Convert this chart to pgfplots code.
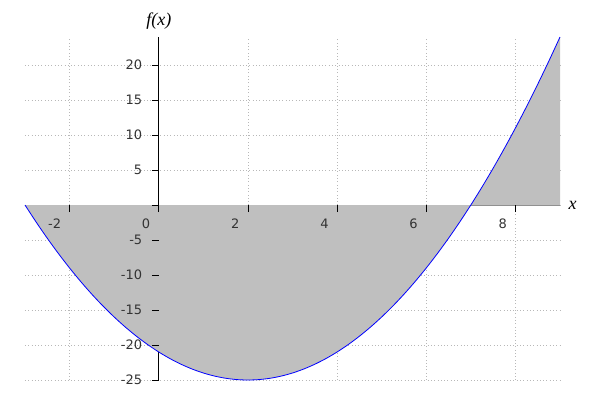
\documentclass[border=0pt]{standalone}
\usepackage{pgfplots}
\usepackage{pgfplotstable}
\pgfplotsset{compat=1.18}
\usepackage{fontspec}
\setmainfont{DejaVu Sans}
\newfontfamily\serifit{Liberation Serif}
\definecolor{fillgray}{HTML}{BFBFBF}
\definecolor{axgray}{HTML}{8A8A8A}
\definecolor{gridgray}{HTML}{B8B8B8}
\pgfplotsset{
 common/.style={
  at={(0,0)}, anchor=south west,
  scale only axis, width=535pt, height=343pt,
  xmin=-3, xmax=9, ymin=-25, ymax=24,
  xtick={-2,0,2,4,6,8},
  ytick={-25,-20,-15,-10,-5,0,5,10,15,20},
  hide obscured x ticks=false, hide obscured y ticks=false,
  clip=false,
 },
}
\pgfplotstableread{
x y
-3 0
-2.75 -2.4375
-2.5 -4.75
-2.25 -6.9375
-2 -9
-1.75 -10.9375
-1.5 -12.75
-1.25 -14.4375
-1 -16
-0.75 -17.4375
-0.5 -18.75
-0.25 -19.9375
0 -21
0.25 -21.9375
0.5 -22.75
0.75 -23.4375
1 -24
1.25 -24.4375
1.5 -24.75
1.75 -24.9375
2 -25
2.25 -24.9375
2.5 -24.75
2.75 -24.4375
3 -24
3.25 -23.4375
3.5 -22.75
3.75 -21.9375
4 -21
4.25 -19.9375
4.5 -18.75
4.75 -17.4375
5 -16
5.25 -14.4375
5.5 -12.75
5.75 -10.9375
6 -9
6.25 -6.9375
6.5 -4.75
6.75 -2.4375
7 0
7.25 2.5625
7.5 5.25
7.75 8.0625
8 11
8.25 14.0625
8.5 17.25
8.75 20.5625
9 24
}\curve
\begin{document}
\begin{tikzpicture}
% background: grid and axis lines
\begin{axis}[
 common,
 axis lines=middle,
 axis line style={-},
 x axis line style={draw=axgray, line width=0.8pt},
 y axis line style={draw=black, line width=1pt},
 major tick length=0pt, tick style={draw=none},
 xticklabels={}, yticklabels={},
 grid=major, grid style={dash pattern=on 0.7pt off 2.6pt, color=gridgray, line width=0.6pt},
]
\end{axis}
% plots
\begin{axis}[common, hide axis]
\addplot[draw=none, fill=fillgray] table {\curve} \closedcycle;
\addplot[blue, line width=0.8pt, smooth] table {\curve};
\end{axis}
% foreground: ticks, tick labels, axis labels
\begin{axis}[
 common,
 axis lines=middle,
 axis line style={draw=none, -},
 yticklabels={-25,-20,-15,-10,-5,,5,10,15,20},
 tick align=outside, major tick length=7pt,
 tick style={black, line width=0.8pt},
 tick label style={font=\fontsize{13}{15}\selectfont, text=black!80},
 xticklabel style={anchor=north east, xshift=-5pt, yshift=-3pt},
 yticklabel style={anchor=east, xshift=-6pt},
 /pgf/number format/assume math mode=true,
 xlabel={\serifit\itshape x}, ylabel={\serifit\itshape f(x)},
 xlabel style={anchor=west, xshift=5pt, font=\fontsize{18}{20}\selectfont},
 ylabel style={anchor=south, yshift=4pt, font=\fontsize{18}{20}\selectfont},
]
\end{axis}
\path (-25pt,-20pt) rectangle (575pt,380pt);
\end{tikzpicture}
\end{document}
